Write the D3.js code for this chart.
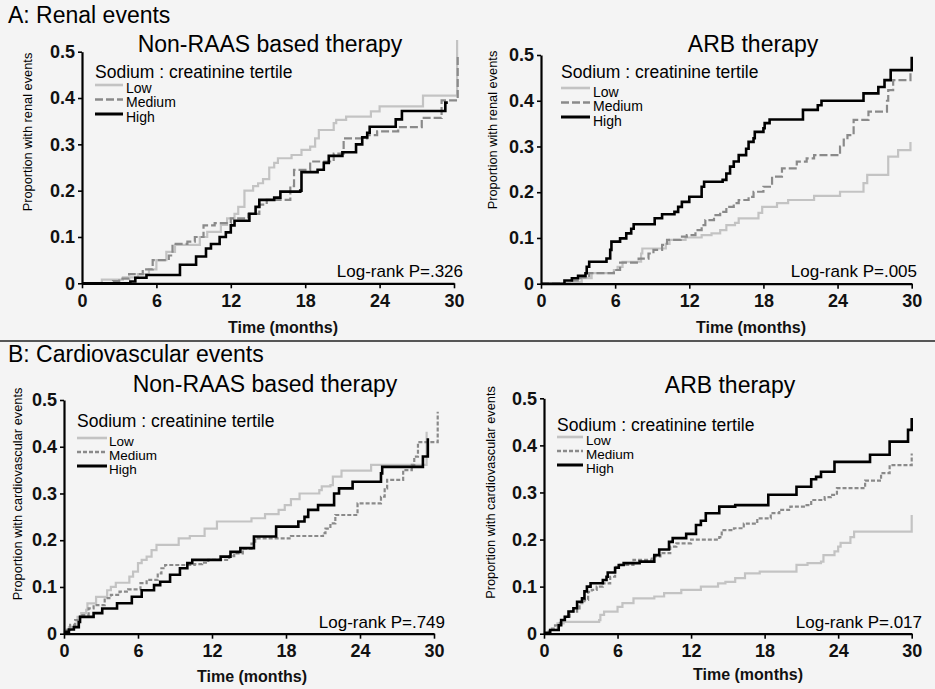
<!DOCTYPE html>
<html><head><meta charset="utf-8">
<script src="https://cdn.jsdelivr.net/npm/d3@7"></script>
<style>body{margin:0;background:#f4f4f4;} svg{display:block;}</style>
</head><body><svg id="chart" width="935" height="689"></svg>
<script>
// ---------- DATA ----------
const timeTicks = [0, 6, 12, 18, 24, 30];
const propTicks = [0, 0.1, 0.2, 0.3, 0.4, 0.5];
const tertiles = ["Low", "Medium", "High"];
const sectionTitles = ["A: Renal events", "B: Cardiovascular events"];
const panelTitles = ["Non-RAAS based therapy", "ARB therapy", "Non-RAAS based therapy", "ARB therapy"];
const yLabels = ["Proportion with renal events", "Proportion with renal events",
                 "Proportion with cardiovascular events", "Proportion with cardiovascular events"];
const logRankP = ["Log-rank P=.326", "Log-rank P=.005", "Log-rank P=.749", "Log-rank P=.017"];
const legendTitle = "Sodium : creatinine tertile";
const xLabel = "Time (months)";

// [time (months), cumulative proportion]
const renalNonRaasLow = [[0,0],[1.6,0.008],[3.3,0.013],[4.5,0.02],[5.4,0.03],[6,0.05],[6.8,0.068],[7.5,0.083],[9.5,0.1],[10.1,0.111],[11.2,0.126],[11.7,0.14],[12.3,0.15],[12.6,0.165],[13.1,0.2],[13.8,0.21],[14.2,0.216],[14.6,0.225],[15.1,0.25],[15.5,0.26],[15.8,0.27],[16.9,0.277],[17.7,0.288],[18.4,0.295],[18.8,0.313],[19.1,0.331],[20.3,0.346],[20.5,0.353],[21.3,0.36],[23.3,0.371],[24,0.382],[27.5,0.405],[30.25,0.525]];
const renalNonRaasMedium = [[0,0],[2.5,0.005],[3,0.01],[3.8,0.02],[4.9,0.03],[5.7,0.05],[7,0.06],[7.3,0.085],[8.5,0.09],[9.1,0.1],[9.8,0.125],[10.7,0.13],[12,0.14],[13.4,0.15],[14.3,0.17],[14.9,0.18],[16.8,0.21],[17.1,0.245],[18.4,0.263],[20.3,0.28],[21.1,0.313],[23,0.32],[23.8,0.328],[25.5,0.337],[27.4,0.357],[29,0.395],[30.3,0.49]];
const renalNonRaasHigh = [[0,0],[3.9,0.004],[4.3,0.012],[5.2,0.018],[7.9,0.04],[9.2,0.058],[10,0.075],[10.4,0.085],[11.1,0.1],[11.6,0.11],[12,0.125],[12.3,0.135],[13.5,0.15],[14,0.165],[14.3,0.18],[15.5,0.185],[16,0.198],[17.6,0.2],[17.7,0.24],[19,0.245],[19.5,0.26],[19.9,0.275],[21,0.283],[22.1,0.3],[22.6,0.315],[23,0.325],[23.2,0.338],[25.3,0.354],[25.8,0.372],[29.3,0.39],[29.5,0.39]];

const renalArbLow = [[0,0],[2.5,0.004],[3.3,0.012],[4.1,0.023],[5.9,0.03],[6.2,0.037],[6.6,0.048],[8.1,0.066],[8.2,0.077],[10.1,0.087],[10.4,0.096],[11.7,0.101],[13,0.106],[13.8,0.11],[14.5,0.117],[15,0.128],[15.7,0.133],[16,0.143],[17.6,0.155],[17.9,0.168],[19.1,0.176],[20,0.183],[22.1,0.192],[24.2,0.201],[26.1,0.22],[26.4,0.238],[28.1,0.278],[28.9,0.292],[29.9,0.31]];
const renalArbMedium = [[0,0],[2.5,0.007],[3.2,0.014],[3.9,0.023],[5.9,0.03],[6.4,0.046],[7.9,0.055],[8.7,0.066],[9.1,0.074],[9.8,0.085],[10.2,0.096],[11.3,0.103],[11.8,0.106],[12.5,0.117],[13,0.128],[13.3,0.139],[14,0.15],[14.5,0.157],[15,0.168],[15.6,0.176],[16,0.183],[16.8,0.19],[17.2,0.201],[18,0.212],[18.7,0.234],[19.5,0.252],[20.7,0.267],[21.5,0.274],[22.1,0.281],[24.2,0.3],[24.5,0.315],[24.8,0.325],[25.3,0.358],[26.5,0.376],[28,0.4],[28.1,0.423],[28.5,0.445],[29.9,0.463]];
const renalArbHigh = [[0,0],[1.9,0.007],[2.5,0.012],[3,0.017],[3.6,0.023],[3.7,0.037],[3.9,0.048],[5.3,0.055],[5.6,0.074],[5.7,0.092],[6.4,0.099],[6.9,0.11],[7.3,0.12],[7.5,0.13],[9.2,0.143],[9.8,0.152],[10.8,0.157],[11.1,0.168],[11.4,0.179],[12,0.19],[13,0.212],[13.2,0.223],[14.7,0.227],[15,0.241],[15.3,0.256],[15.6,0.267],[16,0.281],[16.6,0.295],[16.8,0.31],[17.2,0.318],[17.3,0.332],[18,0.34],[18.1,0.351],[18.5,0.359],[21.2,0.38],[22.4,0.39],[22.7,0.4],[26.1,0.416],[27.3,0.43],[27.8,0.445],[28.3,0.467],[30,0.496]];

const cvNonRaasLow = [[0,0],[0.1,0.008],[0.4,0.014],[1.1,0.036],[1.4,0.044],[1.8,0.051],[1.9,0.065],[2.6,0.079],[3.5,0.093],[3.8,0.1],[4.2,0.109],[5.3,0.122],[5.6,0.133],[6,0.151],[6.3,0.158],[6.7,0.165],[7.1,0.179],[7.5,0.19],[9.3,0.204],[10.2,0.209],[11.4,0.225],[12.4,0.24],[15.2,0.247],[16.3,0.256],[17.4,0.265],[17.9,0.275],[18.4,0.288],[19.1,0.3],[20.7,0.307],[20.9,0.315],[21.6,0.318],[21.8,0.336],[22.5,0.349],[24.9,0.361],[29.4,0.432]];
const cvNonRaasMedium = [[0,0],[0.1,0.008],[0.5,0.019],[0.9,0.029],[1.3,0.04],[2,0.054],[2.4,0.061],[3.3,0.076],[3.8,0.083],[4.5,0.09],[5.2,0.095],[6.2,0.108],[6.7,0.115],[7.6,0.129],[7.9,0.14],[8.2,0.147],[10.6,0.149],[11.2,0.152],[11.7,0.158],[13.4,0.166],[13.8,0.172],[14.5,0.182],[15.2,0.193],[15.5,0.204],[18.4,0.209],[21,0.215],[21.2,0.225],[21.6,0.236],[22,0.254],[23.8,0.279],[25.7,0.293],[26,0.311],[26.2,0.329],[27.5,0.35],[28.2,0.361],[28.4,0.379],[28.7,0.41],[30.3,0.475]];
const cvNonRaasHigh = [[0,0],[0.1,0.004],[0.4,0.009],[0.8,0.014],[1.2,0.025],[1.3,0.036],[2.4,0.044],[3.1,0.054],[4.3,0.065],[5.5,0.079],[6.3,0.093],[7.3,0.104],[7.8,0.111],[8.6,0.126],[9.4,0.14],[10,0.151],[10.4,0.158],[12.7,0.165],[13.5,0.175],[14.3,0.183],[15.4,0.208],[17.2,0.229],[19,0.24],[19.5,0.25],[19.8,0.265],[20.6,0.275],[21.9,0.3],[22.3,0.311],[23.4,0.325],[25.7,0.343],[25.8,0.357],[29.1,0.379],[29.5,0.418]];

const cvArbLow = [[0,0],[0.5,0.008],[1.1,0.022],[1.6,0.025],[4.5,0.029],[4.6,0.04],[4.9,0.047],[6,0.057],[6.4,0.065],[7.3,0.075],[9,0.079],[9.8,0.086],[11.2,0.093],[12.8,0.1],[14.2,0.107],[14.8,0.11],[15.6,0.118],[16.4,0.128],[17.6,0.132],[20.6,0.146],[21.5,0.15],[22.6,0.153],[22.8,0.167],[23.7,0.175],[24,0.185],[24.2,0.193],[25,0.205],[25.3,0.217],[30,0.252]];
const cvArbMedium = [[0,0],[0.2,0.005],[0.5,0.011],[0.9,0.018],[1.3,0.029],[1.7,0.036],[2.1,0.047],[2.7,0.054],[2.9,0.065],[3.3,0.072],[3.6,0.089],[3.9,0.093],[4.3,0.1],[4.8,0.107],[5.4,0.121],[5.8,0.142],[6.2,0.146],[7.3,0.157],[8.8,0.164],[9.5,0.171],[10.3,0.185],[10.8,0.192],[12,0.2],[14.3,0.205],[14.5,0.22],[15.5,0.224],[16.3,0.234],[17.4,0.245],[18.5,0.256],[19.2,0.263],[20.1,0.27],[21.2,0.273],[21.8,0.284],[22.9,0.29],[23.4,0.295],[23.9,0.309],[26.2,0.325],[27.5,0.341],[28.2,0.358],[30,0.383]];
const cvArbHigh = [[0,0],[0.1,0.002],[0.5,0.008],[1.2,0.018],[1.4,0.029],[1.7,0.036],[2,0.047],[2.4,0.054],[2.7,0.068],[3.1,0.075],[3.3,0.09],[3.5,0.1],[3.8,0.107],[4.8,0.114],[5.1,0.121],[5.2,0.13],[5.8,0.14],[6.1,0.146],[6.5,0.15],[7.8,0.153],[9,0.167],[9.4,0.179],[10.2,0.195],[10.5,0.203],[11.6,0.212],[12.4,0.231],[12.8,0.24],[13.2,0.256],[14.3,0.27],[15.6,0.273],[18.3,0.295],[20.6,0.312],[21.8,0.328],[22.2,0.333],[22.6,0.344],[23.7,0.365],[26.6,0.38],[28.2,0.408],[29.7,0.433],[30,0.458]];

// ---------- LAYOUT ----------
const FONT = "'Liberation Sans', Arial, Helvetica, sans-serif";
const colors = ["#c3c3c3", "#8a8a8a", "#000000"];
const widths = [2.2, 2.2, 2.6];

const panels = [
  {series:[renalNonRaasLow, renalNonRaasMedium, renalNonRaasHigh], idx:0,
   x0:82, x1:454, y0:283.3, y1:51.7, titleX:270, titleY:52, ylabX:27, ylabY:132,
   legX:95, legHeadY:78, legLineY:85, legStep:14.5, legTextDy:7.5, legLineLen:28, legTextX:126,
   legFont:14, pX:463, pY:277, timeX:283, timeY:333, dash:"8,3"},
  {series:[renalArbLow, renalArbMedium, renalArbHigh], idx:1,
   x0:541, x1:911.7, y0:283.7, y1:55, titleX:753, titleY:52, ylabX:492, ylabY:130,
   legX:561, legHeadY:78, legLineY:88, legStep:14.5, legTextDy:8.5, legLineLen:29, legTextX:593,
   legFont:14, pX:917, pY:277, timeX:751, timeY:333, dash:"8,3"},
  {series:[cvNonRaasLow, cvNonRaasMedium, cvNonRaasHigh], idx:2,
   x0:64, x1:434, y0:633.7, y1:400, titleX:265, titleY:392, ylabX:17.5, ylabY:494,
   legX:77, legHeadY:427, legLineY:438, legStep:14, legTextDy:7.5, legLineLen:30, legTextX:109,
   legFont:13.5, pX:445, pY:628, timeX:252, timeY:682, dash:"4,2"},
  {series:[cvArbLow, cvArbMedium, cvArbHigh], idx:3,
   x0:544, x1:911.7, y0:633.7, y1:398.3, titleX:730, titleY:393, ylabX:490, ylabY:492.5,
   legX:557, legHeadY:431, legLineY:437, legStep:14, legTextDy:8, legLineLen:26, legTextX:586,
   legFont:13.5, pX:922, pY:628, timeX:748, timeY:680, dash:"4,2"}
];

const svg = d3.select("#chart");
svg.append("rect").attr("width", 935).attr("height", 689).attr("fill", "#f4f4f4");

// section headings and separator
svg.append("text").attr("x", 8).attr("y", 23).attr("font-family", FONT).attr("font-size", 23)
  .attr("fill", "#000").text(sectionTitles[0]);
svg.append("text").attr("x", 8).attr("y", 362).attr("font-family", FONT).attr("font-size", 23)
  .attr("fill", "#000").text(sectionTitles[1]);
svg.append("line").attr("x1", 0).attr("x2", 935).attr("y1", 341).attr("y2", 341)
  .attr("stroke", "#222").attr("stroke-width", 1.5);

panels.forEach(p => {
  const g = svg.append("g");
  const x = d3.scaleLinear().domain([0, 30]).range([p.x0, p.x1]);
  const y = d3.scaleLinear().domain([0, 0.5]).range([p.y0, p.y1]);

  // title
  g.append("text").attr("x", p.titleX).attr("y", p.titleY).attr("text-anchor", "middle")
    .attr("font-family", FONT).attr("font-size", 23).attr("fill", "#000").text(panelTitles[p.idx]);

  // y label
  g.append("text").attr("transform", `translate(${p.ylabX},${p.ylabY}) rotate(-90)`)
    .attr("text-anchor", "middle").attr("dominant-baseline", "central")
    .attr("font-family", FONT).attr("font-size", 12.8).attr("fill", "#000").text(yLabels[p.idx]);

  // curves
  const line = d3.line().x(d => x(d[0])).y(d => y(d[1])).curve(d3.curveStepAfter);
  p.series.forEach((s, i) => {
    g.append("path").datum(s).attr("d", line).attr("fill", "none")
      .attr("stroke", colors[i]).attr("stroke-width", widths[i])
      .attr("stroke-dasharray", i === 1 ? p.dash : null)
      .attr("stroke-linejoin", "miter");
  });

  // axes
  const xAxis = d3.axisBottom(x).tickValues(timeTicks).tickSize(5).tickSizeOuter(0).tickPadding(6);
  const yAxis = d3.axisLeft(y).tickValues(propTicks).tickSize(4).tickSizeOuter(0).tickPadding(3)
    .tickFormat(d => d === 0 ? "0" : d.toFixed(1));
  const gx = g.append("g").attr("transform", `translate(0,${p.y0})`).call(xAxis);
  const gy = g.append("g").attr("transform", `translate(${p.x0},0)`).call(yAxis);
  [gx, gy].forEach(a => {
    a.select(".domain").attr("stroke", "#000").attr("stroke-width", 2.2);
    a.selectAll(".tick line").attr("stroke", "#000").attr("stroke-width", 1.6);
    a.selectAll(".tick text").attr("font-family", FONT).attr("font-size", 18)
      .attr("font-weight", "bold").attr("fill", "#111");
  });

  // x label
  g.append("text").attr("x", p.timeX).attr("y", p.timeY).attr("text-anchor", "middle")
    .attr("font-family", FONT).attr("font-size", 16).attr("font-weight", "bold")
    .attr("fill", "#111").text(xLabel);

  // log-rank
  g.append("text").attr("x", p.pX).attr("y", p.pY).attr("text-anchor", "end")
    .attr("font-family", FONT).attr("font-size", 17).attr("fill", "#000").text(logRankP[p.idx]);

  // legend
  g.append("text").attr("x", p.legX).attr("y", p.legHeadY)
    .attr("font-family", FONT).attr("font-size", 17.5).attr("fill", "#000").text(legendTitle);
  tertiles.forEach((t, i) => {
    const ly = p.legLineY + i * p.legStep;
    g.append("line").attr("x1", p.legX).attr("x2", p.legX + p.legLineLen)
      .attr("y1", ly).attr("y2", ly).attr("stroke", colors[i]).attr("stroke-width", widths[i] + 0.4)
      .attr("stroke-dasharray", i === 1 ? p.dash : null);
    g.append("text").attr("x", p.legTextX).attr("y", ly + p.legTextDy)
      .attr("font-family", FONT).attr("font-size", p.legFont).attr("fill", "#000").text(t);
  });
});
</script></body></html>
